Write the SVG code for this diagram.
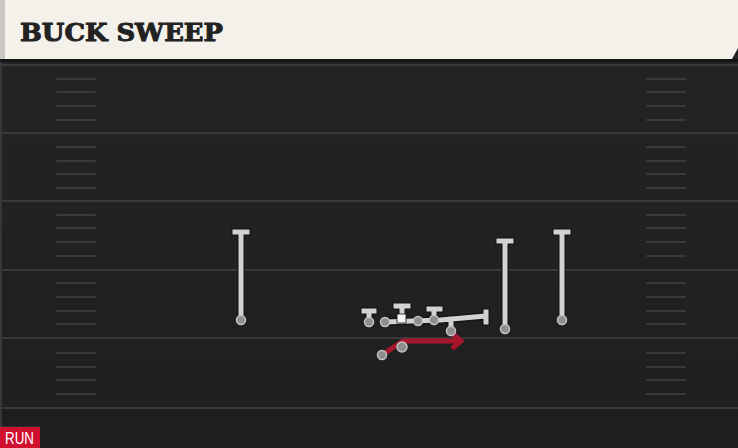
<svg xmlns="http://www.w3.org/2000/svg" width="738" height="448" viewBox="0 0 738 448">
<defs>
<style>
.yard{stroke:#393939;stroke-width:2}
.hash{stroke:#3a3a3a;stroke-width:2;stroke-linecap:round}
.route{fill:none;stroke:#d2d2d2;stroke-width:5;stroke-linecap:square;stroke-linejoin:round}
.edge{fill:none;stroke:#141414;stroke-width:7.5;stroke-linecap:square;stroke-linejoin:round}
.dot{fill:#8e8e8e;stroke:#c4c4c4;stroke-width:1.5}
.run{fill:none;stroke:#a8162c;stroke-width:5;stroke-linejoin:miter}
</style>
<linearGradient id="fld" x1="0" y1="0" x2="0" y2="1">
<stop offset="0" stop-color="#242424"/>
<stop offset="1" stop-color="#1f1f1f"/>
</linearGradient>
</defs>
<rect x="0" y="0" width="738" height="448" fill="url(#fld)"/>
<rect x="0" y="408" width="738" height="40" fill="#1e1e1e"/>
<rect x="0" y="60" width="2" height="388" fill="#383838"/>
<g id="yardlines">
<line class="yard" x1="0" y1="65" x2="738" y2="65"/>
<line class="yard" x1="0" y1="133" x2="738" y2="133"/>
<line class="yard" x1="0" y1="201" x2="738" y2="201"/>
<line class="yard" x1="0" y1="270" x2="738" y2="270"/>
<line class="yard" x1="0" y1="338" x2="738" y2="338"/>
<line class="yard" x1="0" y1="408" x2="738" y2="408"/>
</g>
<g id="hashes">
<path class="hash" d="M57 79H95M57 92H95M57 106H95M57 120H95M57 147H95M57 161H95M57 174H95M57 188H95M57 215H95M57 228H95M57 242H95M57 256H95M57 283H95M57 297H95M57 311H95M57 324H95M57 353H95M57 367H95M57 380H95M57 394H95"/>
<path class="hash" d="M647 79H685M647 92H685M647 106H685M647 120H685M647 147H685M647 161H685M647 174H685M647 188H685M647 215H685M647 228H685M647 242H685M647 256H685M647 283H685M647 297H685M647 311H685M647 324H685M647 353H685M647 367H685M647 380H685M647 394H685"/>
</g>
<g id="header">
<path d="M0 0H738V48L732 59H0Z" fill="#f4f1eb"/>
<rect x="0" y="0" width="5" height="59" fill="#c9c7c2"/>
<rect x="0" y="59" width="738" height="3" fill="#151515"/>
<text x="20" y="41" font-family="'DejaVu Serif', serif" font-weight="bold" font-size="25" fill="#222" stroke="#222" stroke-width="1" textLength="203" lengthAdjust="spacingAndGlyphs">BUCK SWEEP</text>
</g>
<g id="connectors">
<g id="oline-blocks">
<path class="edge" d="M385 322L440 320L486 316M486 312V322M451 319V331"/>
<path class="route" d="M385 322L440 320L486 316M486 312V322M451 319V331"/>
</g>
<g id="run-path">
<path class="run" d="M382 355L403 341H460"/>
<path class="run" d="M454 335L461 341L454 347" stroke-linecap="square"/>
</g>
</g>
<g id="wr-left">
<path class="edge" d="M241 232V320M235 232H247"/>
<path class="route" d="M241 232V320M235 232H247"/>
<circle class="dot" cx="241" cy="320" r="4.5"/>
</g>
<g id="wr-right-1">
<path class="edge" d="M505 241V329M499 241H511"/>
<path class="route" d="M505 241V329M499 241H511"/>
<circle class="dot" cx="505" cy="329" r="4.5"/>
</g>
<g id="wr-right-2">
<path class="edge" d="M562 232V320M556 232H568"/>
<path class="route" d="M562 232V320M556 232H568"/>
<circle class="dot" cx="562" cy="320" r="4.5"/>
</g>
<g id="lt">
<path class="edge" d="M369 311V321M364 311H374"/>
<path class="route" d="M369 311V321M364 311H374"/>
<circle class="dot" cx="369" cy="322" r="4.5"/>
</g>
<g id="lg">
<circle class="dot" cx="385" cy="322" r="4.5"/>
</g>
<g id="center">
<path class="edge" d="M402 306V316M396 306H408"/>
<path class="route" d="M402 306V316M396 306H408"/>
<rect x="397" y="314" width="9" height="9" fill="#f4f4f4" stroke="#111" stroke-width="0.8"/>
</g>
<g id="rg">
<circle class="dot" cx="418" cy="321" r="4.5"/>
</g>
<g id="rt">
<path class="edge" d="M434 309V320M429 309H440"/>
<path class="route" d="M434 309V320M429 309H440"/>
<circle class="dot" cx="434" cy="320" r="4.5"/>
</g>
<g id="te">
<circle class="dot" cx="451" cy="331" r="4.5"/>
</g>
<g id="qb">
<circle class="dot" cx="402" cy="347" r="5"/>
</g>
<g id="rb">
<circle class="dot" cx="382" cy="355" r="4.5"/>
</g>
<g id="run-tag">
<line x1="0" y1="426.5" x2="40" y2="426.5" stroke="#555" stroke-width="1" stroke-dasharray="1 2"/>
<rect x="0" y="427" width="40" height="21" fill="#d0102e"/>
<text x="5" y="444" font-family="'Liberation Sans', Arial, sans-serif" font-size="16" fill="#fff" textLength="29" lengthAdjust="spacingAndGlyphs">RUN</text>
</g>
</svg>
